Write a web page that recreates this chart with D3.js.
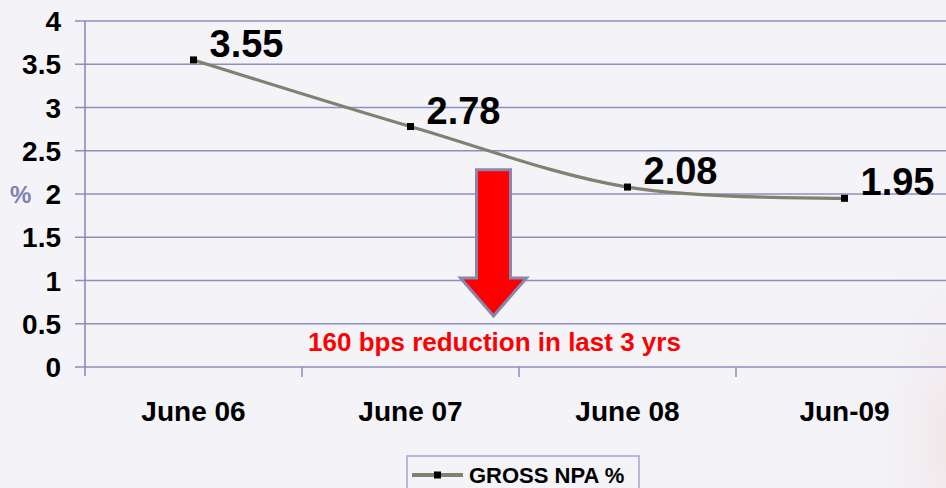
<!DOCTYPE html>
<html>
<head>
<meta charset="utf-8">
<script src="https://cdn.jsdelivr.net/npm/d3@7"></script>
<style>
  html, body { margin: 0; padding: 0; background: #f3f3f8; }
  svg { display: block; font-family: "Liberation Sans", Arial, sans-serif; font-weight: bold; }
</style>
</head>
<body>
<div id="chart"></div>
<script>
// chart data
var categories = ['June 06', 'June 07', 'June 08', 'Jun-09'];
var npaValues = [3.55, 2.78, 2.08, 1.95];
var yTicks = [0, 0.5, 1, 1.5, 2, 2.5, 3, 3.5, 4];
var seriesName = 'GROSS NPA %';
var note = '160 bps reduction in last 3 yrs';

var width = 946, height = 488;
var plotLeft = 85, plotTop = 21, plotBottom = 367;

var svg = d3.select('#chart').append('svg')
    .attr('width', width)
    .attr('height', height);

// faint pink background blob at lower right
var defs = svg.append('defs');
var grad = defs.append('radialGradient').attr('id', 'pinkGlow');
grad.append('stop').attr('offset', '0%').attr('stop-color', '#f0dcdc').attr('stop-opacity', 0.6);
grad.append('stop').attr('offset', '100%').attr('stop-color', '#f3f3f8').attr('stop-opacity', 0);
svg.append('ellipse')
    .attr('cx', 950).attr('cy', 440)
    .attr('rx', 90).attr('ry', 220)
    .attr('fill', 'url(#pinkGlow)');

var x = d3.scaleBand()
    .domain(categories)
    .range([plotLeft, plotLeft + 4 * 217]);

var y = d3.scaleLinear()
    .domain([0, 4])
    .range([plotBottom, plotTop]);

// horizontal gridlines + tick marks
svg.append('g').selectAll('line')
    .data(yTicks)
    .enter().append('line')
    .attr('x1', plotLeft - 10)
    .attr('x2', width)
    .attr('y1', function (d) { return y(d); })
    .attr('y2', function (d) { return y(d); })
    .attr('stroke', '#8f8fbf')
    .attr('stroke-width', 1.5);

// y axis line
svg.append('line')
    .attr('x1', plotLeft).attr('x2', plotLeft)
    .attr('y1', plotTop).attr('y2', plotBottom + 9)
    .attr('stroke', '#8585b8')
    .attr('stroke-width', 1.5);

// category tick marks
svg.append('g').selectAll('line')
    .data(categories.slice(1))
    .enter().append('line')
    .attr('x1', function (d) { return x(d); })
    .attr('x2', function (d) { return x(d); })
    .attr('y1', plotBottom)
    .attr('y2', plotBottom + 10)
    .attr('stroke', '#8f8fbf')
    .attr('stroke-width', 1.5);

// y tick labels
svg.append('g').selectAll('text')
    .data(yTicks)
    .enter().append('text')
    .attr('x', 61)
    .attr('y', function (d) { return y(d); })
    .attr('dy', '0.36em')
    .attr('text-anchor', 'end')
    .attr('font-size', 28)
    .attr('fill', '#000')
    .text(function (d) { return d; });

svg.append('text')
    .attr('x', 10)
    .attr('y', 203)
    .attr('font-size', 24)
    .attr('fill', '#8080b4')
    .text('%');

// category labels
svg.append('g').selectAll('text')
    .data(categories)
    .enter().append('text')
    .attr('x', function (d) { return x(d) + x.bandwidth() / 2; })
    .attr('y', 421)
    .attr('text-anchor', 'middle')
    .attr('font-size', 28)
    .attr('fill', '#000')
    .text(function (d) { return d; });

// the arrow (drawn before line so the line sits on top)
var ax = 493.5;
var arrowPts = [
    [ax - 17, y(2.28)], [ax + 17, y(2.28)], [ax + 17, y(1.03)],
    [ax + 33, y(1.03)], [ax, y(0.59)], [ax - 33, y(1.03)], [ax - 17, y(1.03)]
];
svg.append('polygon')
    .attr('points', arrowPts.map(function (p) { return p.join(','); }).join(' '))
    .attr('fill', '#ff0000')
    .attr('stroke', '#8686b0')
    .attr('stroke-width', 3)
    .attr('stroke-linejoin', 'miter');

svg.append('text')
    .attr('x', 494.5)
    .attr('y', 351)
    .attr('text-anchor', 'middle')
    .attr('font-size', 26)
    .attr('fill', '#ff0000')
    .text(note);

// the series line
var pts = categories.map(function (c, i) {
    return { x: x(c) + x.bandwidth() / 2, y: y(npaValues[i]), v: npaValues[i] };
});

var line = d3.line()
    .x(function (d) { return d.x; })
    .y(function (d) { return d.y; })
    .curve(d3.curveCardinal.tension(0));

svg.append('path')
    .datum(pts)
    .attr('d', line)
    .attr('fill', 'none')
    .attr('stroke', '#818170')
    .attr('stroke-width', 3.2);

svg.append('g').selectAll('rect')
    .data(pts)
    .enter().append('rect')
    .attr('x', function (d) { return d.x - 3.5; })
    .attr('y', function (d) { return d.y - 3.5; })
    .attr('width', 7)
    .attr('height', 7)
    .attr('fill', '#000');

// data labels
svg.append('g').selectAll('text')
    .data(pts)
    .enter().append('text')
    .attr('x', function (d) { return d.x + 16; })
    .attr('y', function (d) { return d.y - 3; })
    .attr('font-size', 38)
    .attr('fill', '#000')
    .text(function (d) { return d.v.toFixed(2); });

// legend
var lg = svg.append('g');
lg.append('rect')
    .attr('x', 407).attr('y', 456)
    .attr('width', 232).attr('height', 40)
    .attr('fill', '#f3f3f8')
    .attr('stroke', '#a5a5d2')
    .attr('stroke-width', 1.5);
lg.append('line')
    .attr('x1', 412).attr('x2', 463)
    .attr('y1', 475).attr('y2', 475)
    .attr('stroke', '#818170')
    .attr('stroke-width', 4);
lg.append('rect')
    .attr('x', 434).attr('y', 471.5)
    .attr('width', 7).attr('height', 7)
    .attr('fill', '#000');
lg.append('text')
    .attr('x', 469).attr('y', 483)
    .attr('font-size', 22)
    .attr('fill', '#000')
    .text(seriesName);
</script>
</body>
</html>
